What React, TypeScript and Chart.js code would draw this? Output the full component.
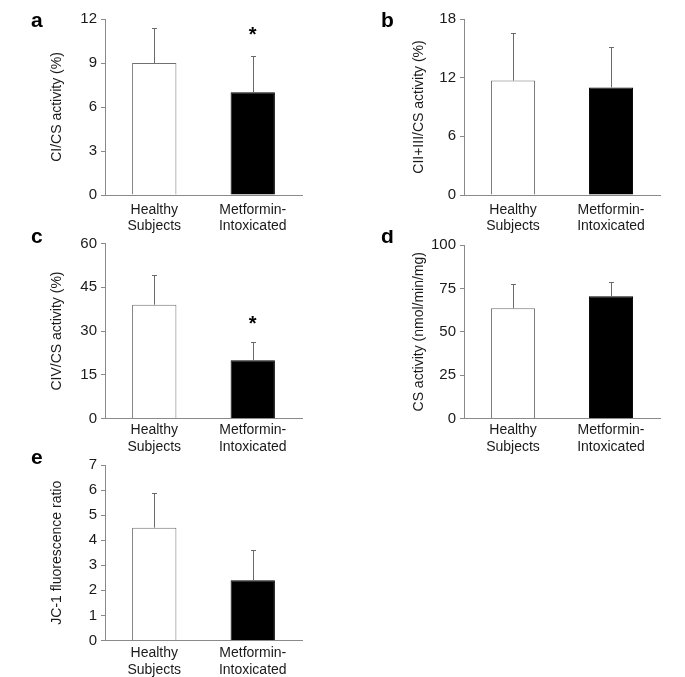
import React, { useEffect, useRef } from "react";
import { Chart, registerables } from "chart.js";

Chart.register(...registerables);

const categories: string[][] = [["Healthy", "Subjects"], ["Metformin-", "Intoxicated"]];

const panelLetters = ["a", "b", "c", "d", "e"];
const yTitles = [
  "CI/CS activity (%)",
  "CII+III/CS activity (%)",
  "CIV/CS activity (%)",
  "CS activity (nmol/min/mg)",
  "JC-1 fluorescence ratio",
];
const yMax = [12, 18, 60, 100, 7];
const yStep = [3, 6, 15, 25, 1];

const meansA = [9, 7];
const errTopA = [11.4, 9.5];
const starA = [null, 11];

const meansB = [11.7, 11.0];
const errTopB = [16.6, 15.1];
const starB = [null, null];

const meansC = [39, 20];
const errTopC = [49.2, 26.3];
const starC = [null, 33];

const meansD = [63.5, 70.5];
const errTopD = [77.5, 78.5];
const starD = [null, null];

const meansE = [4.5, 2.4];
const errTopE = [5.9, 3.6];
const starE = [null, null];

const allMeans = [meansA, meansB, meansC, meansD, meansE];
const allErr = [errTopA, errTopB, errTopC, errTopD, errTopE];
const allStars = [starA, starB, starC, starD, starE];

// layout (page coordinates)
type Box = { left: number; top: number; w: number; h: number; aL: number; aR: number; aT: number; aB: number; titleX: number; letterX: number; letterY: number; xPad: number };
const boxes: Box[] = [
  { left: 0, top: 0, w: 340, h: 240, aL: 105, aR: 302, aT: 19, aB: 195, titleX: 57, letterX: 31, letterY: 27, xPad: 7 },
  { left: 340, top: 0, w: 345, h: 240, aL: 464, aR: 660, aT: 19, aB: 195, titleX: 419, letterX: 381, letterY: 27, xPad: 7 },
  { left: 0, top: 230, w: 340, h: 230, aL: 105, aR: 302, aT: 243.5, aB: 418.5, titleX: 57, letterX: 31, letterY: 243, xPad: 4 },
  { left: 340, top: 230, w: 345, h: 230, aL: 464, aR: 660, aT: 245, aB: 418.5, titleX: 419, letterX: 381, letterY: 243, xPad: 4 },
  { left: 0, top: 450, w: 340, h: 227, aL: 105, aR: 302, aT: 465, aB: 640.5, titleX: 57, letterX: 31, letterY: 464, xPad: 5 },
];

const FONT = "'Liberation Sans', Arial, sans-serif";
const AXIS_COLOR = "#8a8a8a";
const TEXT_COLOR = "#1a1a1a";

function Panel({ idx }: { idx: number }) {
  const ref = useRef<HTMLCanvasElement | null>(null);
  const b = boxes[idx];
  useEffect(() => {
    if (!ref.current) return;
    const padTop = b.aT - b.top;
    const padRight = b.left + b.w - b.aR;
    const yWidth = b.aL - b.left;
    const xHeight = b.top + b.h - b.aB;
    const means = allMeans[idx];
    const errs = allErr[idx];
    const stars = allStars[idx];
    const titleCenterLocal = b.titleX - b.left;
    const lineH = 14 * 1.2;

    const overlay = {
      id: "overlay" + idx,
      afterDatasetsDraw(chart: any) {
        const ctx = chart.ctx;
        const meta = chart.getDatasetMeta(0);
        const ys = chart.scales.y;
        ctx.save();
        meta.data.forEach((bar: any, i: number) => {
          const x = Math.round(bar.x) + 0.5;
          const yTop = ys.getPixelForValue(means[i]);
          const yErr = Math.round(ys.getPixelForValue(errs[i])) + 0.5;
          ctx.strokeStyle = "#6a6a6a";
          ctx.lineWidth = 1;
          ctx.beginPath();
          ctx.moveTo(x, yTop);
          ctx.lineTo(x, yErr);
          ctx.moveTo(x - 2.5, yErr);
          ctx.lineTo(x + 2.5, yErr);
          ctx.stroke();
          const s = stars[i];
          if (s !== null && s !== undefined) {
            ctx.fillStyle = "#000";
            ctx.font = "bold 20px " + FONT;
            ctx.textAlign = "center";
            ctx.textBaseline = "middle";
            ctx.fillText("*", bar.x, ys.getPixelForValue(s) + 2);
          }
        });
        ctx.fillStyle = "#000";
        ctx.font = "bold 21px " + FONT;
        ctx.textAlign = "left";
        ctx.textBaseline = "alphabetic";
        ctx.fillText(panelLetters[idx], b.letterX - b.left, b.letterY - b.top);
        ctx.restore();
      },
    };

    const chart = new Chart(ref.current, {
      type: "bar",
      data: {
        labels: categories,
        datasets: [
          {
            data: means,
            backgroundColor: ["#ffffff", "#000000"],
            borderColor: ["#707070", "#000000"],
            borderWidth: 1,
            borderSkipped: "bottom",
            categoryPercentage: 1,
            barPercentage: 0.45,
          },
        ],
      },
      options: {
        animation: false,
        responsive: false,
        maintainAspectRatio: false,
        devicePixelRatio: 1,
        layout: { padding: { top: padTop, right: padRight, left: 0, bottom: 0 } },
        plugins: { legend: { display: false }, tooltip: { enabled: false }, title: { display: false } },
        scales: {
          x: {
            offset: true,
            grid: { display: true, drawOnChartArea: false, drawTicks: false, color: AXIS_COLOR },
            border: { display: true, color: AXIS_COLOR, width: 1 },
            ticks: { color: TEXT_COLOR, font: { family: FONT, size: 14, lineHeight: 1.15 }, padding: b.xPad, maxRotation: 0, autoSkip: false },
            afterFit: (s: any) => { s.height = xHeight; },
          },
          y: {
            min: 0,
            max: yMax[idx],
            grid: { display: true, drawOnChartArea: false, drawTicks: true, tickLength: 4, color: AXIS_COLOR },
            border: { display: true, color: AXIS_COLOR, width: 1 },
            ticks: { stepSize: yStep[idx], color: TEXT_COLOR, font: { family: FONT, size: 15 }, padding: 4 },
            title: {
              display: true,
              text: yTitles[idx],
              color: TEXT_COLOR,
              font: { family: FONT, size: 14 },
              padding: { top: titleCenterLocal - lineH / 2, bottom: 0 },
            },
            afterFit: (s: any) => { s.width = yWidth; },
          },
        },
      },
      plugins: [overlay],
    } as any);
    return () => chart.destroy();
  }, []);
  return (
    <canvas
      ref={ref}
      width={b.w}
      height={b.h}
      style={{ position: "absolute", left: b.left, top: b.top, width: b.w, height: b.h }}
    />
  );
}

export default function App() {
  return (
    <div style={{ position: "fixed", left: 0, top: 0, width: 685, height: 677, background: "#fff", overflow: "hidden" }}>
      {boxes.map((_, i) => (
        <Panel key={i} idx={i} />
      ))}
    </div>
  );
}
